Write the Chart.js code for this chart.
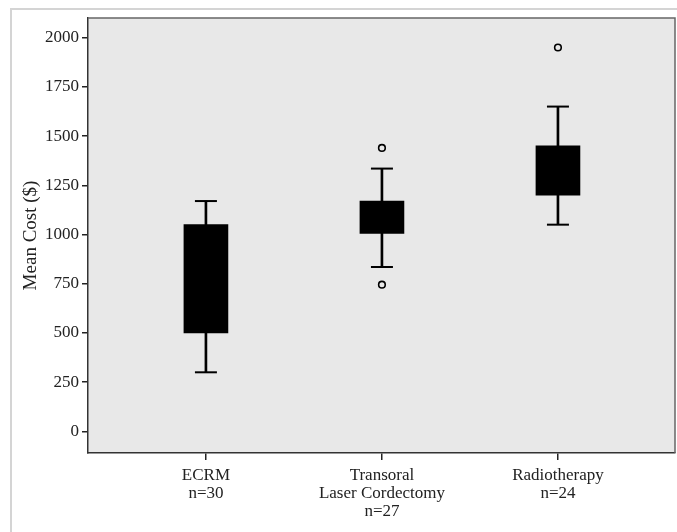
<!DOCTYPE html>
<html>
<head>
<meta charset="utf-8">
<script src="https://cdn.jsdelivr.net/npm/chart.js@4"></script>
<style>
  html, body { margin: 0; padding: 0; background: #fff; }
  #wrap { position: relative; width: 677px; height: 532px; }
  #frame { position: absolute; left: 10px; top: 8px; right: 0; bottom: 0; border-top: 2px solid #d4d4d4; border-left: 2px solid #d4d4d4; }
  canvas { position: absolute; left: 0; top: 0; }
</style>
</head>
<body>
<div id="wrap">
  <div id="frame"></div>
  <canvas id="chart" width="677" height="532"></canvas>
</div>
<script>
// data
const groups = [["ECRM", "n=30"], ["Transoral", "Laser Cordectomy", "n=27"], ["Radiotherapy", "n=24"]];
const positions = [1, 2, 3];
const whiskerLow = [300, 835, 1050];
const q1 = [500, 1005, 1200];
const q3 = [1050, 1170, 1450];
const whiskerHigh = [1170, 1335, 1650];
const outlierX = [2, 2, 3];
const outlierY = [1440, 745, 1950];

const serif = "'Liberation Serif', 'DejaVu Serif', serif";

const plotBg = {
  id: 'plotBg',
  beforeDraw(chart) {
    const { ctx, chartArea: a } = chart;
    ctx.save();
    ctx.fillStyle = '#e8e8e8';
    ctx.fillRect(a.left, a.top, a.right - a.left, a.bottom - a.top);
    ctx.restore();
  },
  afterDraw(chart) {
    const { ctx, chartArea: a } = chart;
    ctx.save();
    ctx.strokeStyle = '#666';
    ctx.lineWidth = 1.5;
    ctx.beginPath();
    ctx.moveTo(a.left, a.top); ctx.lineTo(a.right, a.top); ctx.lineTo(a.right, a.bottom);
    ctx.stroke();
    ctx.restore();
  }
};

const whiskers = positions.map((p, i) => ({ x: p, y: [whiskerLow[i], whiskerHigh[i]] }));
const boxes = positions.map((p, i) => ({ x: p, y: [q1[i], q3[i]] }));
const caps = positions.flatMap((p, i) => [{ x: p, y: whiskerLow[i] }, { x: p, y: whiskerHigh[i] }]);
const outliers = outlierX.map((x, i) => ({ x: x, y: outlierY[i] }));

new Chart(document.getElementById('chart'), {
  type: 'bar',
  data: {
    datasets: [
      { type: 'scatter', data: outliers, pointStyle: 'circle', radius: 3.3, borderWidth: 1.6, borderColor: '#000', backgroundColor: 'rgba(0,0,0,0)' },
      { type: 'scatter', data: caps, pointStyle: 'line', radius: 11, borderWidth: 2, borderColor: '#000' },
      { data: boxes, backgroundColor: '#000', barThickness: 44, grouped: false },
      { data: whiskers, backgroundColor: '#000', barThickness: 2, grouped: false }
    ]
  },
  plugins: [plotBg],
  options: {
    responsive: false,
    animation: false,
    layout: { autoPadding: false, padding: { top: 18, right: 2, left: 0, bottom: 0 } },
    plugins: { legend: { display: false }, tooltip: { enabled: false } },
    scales: {
      x: {
        type: 'linear',
        offset: false,
        min: 0.33, max: 3.665,
        afterFit(s) { s.height = 79; },
        afterBuildTicks(s) { s.ticks = positions.map(v => ({ value: v })); },
        ticks: {
          callback: (v) => groups[positions.indexOf(v)],
          color: '#222',
          font: { family: serif, size: 17, lineHeight: 1.05 },
          padding: 7,
          maxRotation: 0
        },
        grid: { offset: false, drawOnChartArea: false, tickLength: 7, color: '#222', lineWidth: 1.5 },
        border: { color: '#333', width: 1.5 }
      },
      y: {
        min: -110, max: 2100,
        afterFit(s) { s.width = 88; },
        afterBuildTicks(s) { const t = []; for (let v = 0; v <= 2000; v += 250) t.push({ value: v }); s.ticks = t; },
        ticks: { callback: (v) => String(v), color: '#222', font: { family: serif, size: 17 }, padding: 3 },
        grid: { drawOnChartArea: false, tickLength: 6, color: '#222', lineWidth: 1.5 },
        border: { color: '#333', width: 1.5 },
        title: { display: true, text: 'Mean Cost ($)', color: '#222', font: { family: serif, size: 19 }, padding: { top: 20, bottom: 0 } }
      }
    }
  }
});
</script>
</body>
</html>
